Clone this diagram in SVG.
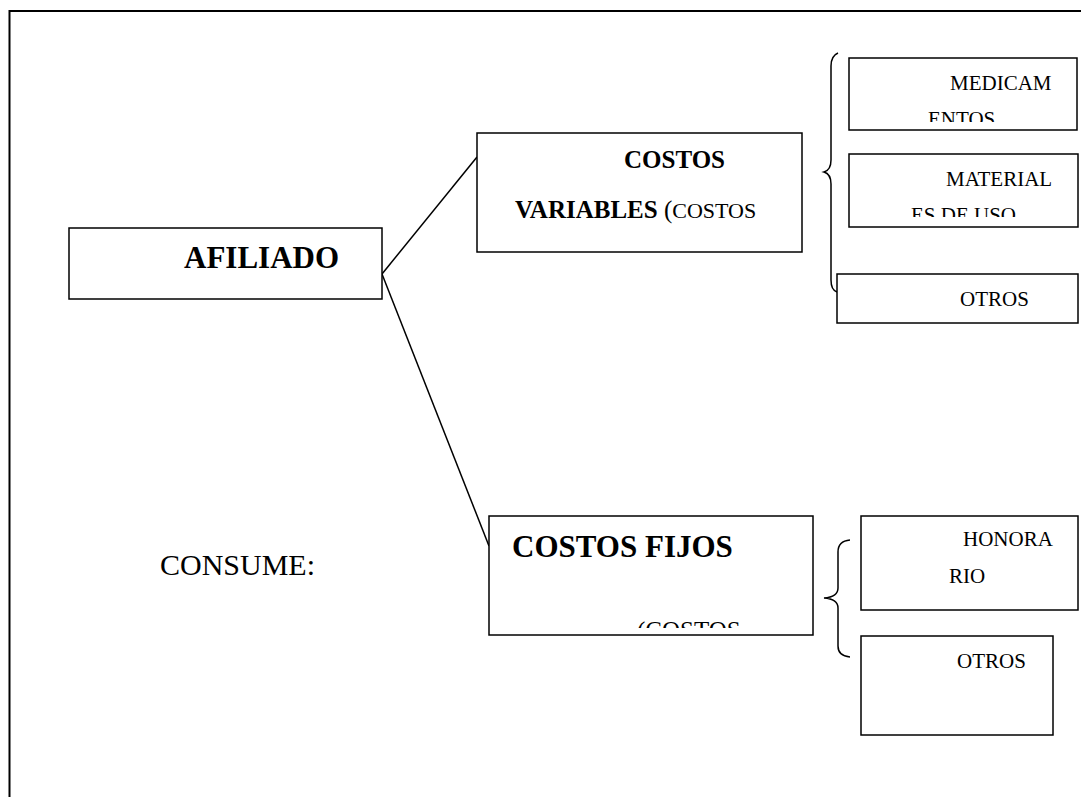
<svg xmlns="http://www.w3.org/2000/svg" width="1081" height="797" viewBox="0 0 1081 797">
  <style>
    .box { fill: #fff; stroke: #000; stroke-width: 1.5; }
    .frame { fill: none; stroke: #000; stroke-width: 2; }
    .link { fill: none; stroke: #000; stroke-width: 1.5; }
    .brace { fill: none; stroke: #000; stroke-width: 1.5; }
    text { font-family: "Liberation Serif", "Times New Roman", serif; fill: #000; }
    .b { font-weight: bold; }
  </style>
  <defs>
    <clipPath id="clipMed"><rect x="850" y="59" width="227" height="63"/></clipPath>
    <clipPath id="clipMat"><rect x="850" y="155" width="227" height="62"/></clipPath>
    <clipPath id="clipFijos"><rect x="490" y="517" width="322" height="111"/></clipPath>
  </defs>
  <rect width="1081" height="797" fill="#fff"/>

  <!-- page frame (open on the right and bottom) -->
  <path class="frame" d="M9.5,800 V11 H1085"/>

  <!-- connectors -->
  <g id="connectors">
    <line class="link" x1="382" y1="274" x2="477" y2="157"/>
    <line class="link" x1="382" y1="274" x2="489" y2="546"/>
    <path class="brace" d="M838,53 Q831,56 831,66 V160 Q831,170 824,172 Q831,174 831,184 V280 Q831,290 837,292"/>
    <path class="brace" d="M850,540 Q838,541 838,552 V588 Q838,597 824,598 Q838,599 838,608 V646 Q838,656 850,657"/>
  </g>

  <g id="afiliado">
    <rect class="box" x="69" y="228" width="313" height="71"/>
    <text class="b" x="184" y="268" font-size="31">AFILIADO</text>
  </g>

  <g id="consume">
    <text x="160" y="575" font-size="30">CONSUME:</text>
  </g>

  <g id="costos-variables">
    <rect class="box" x="477" y="133" width="325" height="119"/>
    <text class="b" x="624" y="168" font-size="25">COSTOS</text>
    <text x="515" y="218"><tspan class="b" font-size="25">VARIABLES </tspan><tspan font-size="25">(</tspan><tspan font-size="22">COSTOS</tspan></text>
  </g>

  <g id="costos-fijos">
    <rect class="box" x="489" y="516" width="324" height="119"/>
    <g clip-path="url(#clipFijos)">
      <text class="b" x="512" y="557" font-size="31">COSTOS FIJOS</text>
      <text x="637" y="639" font-size="25">(COSTOS</text>
    </g>
  </g>

  <g id="medicamentos">
    <rect class="box" x="849" y="58" width="228" height="72"/>
    <g clip-path="url(#clipMed)">
      <text x="950" y="90" font-size="21">MEDICAM</text>
      <text x="928" y="126" font-size="21">ENTOS</text>
    </g>
  </g>

  <g id="materiales">
    <rect class="box" x="849" y="154" width="229" height="73"/>
    <g clip-path="url(#clipMat)">
      <text x="946" y="186" font-size="21">MATERIAL</text>
      <text x="911" y="222" font-size="21">ES DE USO</text>
    </g>
  </g>

  <g id="otros-variables">
    <rect class="box" x="837" y="274" width="241" height="49"/>
    <text x="960" y="306" font-size="21">OTROS</text>
  </g>

  <g id="honorario">
    <rect class="box" x="861" y="516" width="217" height="94"/>
    <text x="963" y="546" font-size="21">HONORA</text>
    <text x="949" y="583" font-size="21">RIO</text>
  </g>

  <g id="otros-fijos">
    <rect class="box" x="861" y="636" width="192" height="99"/>
    <text x="957" y="668" font-size="21">OTROS</text>
  </g>
</svg>
